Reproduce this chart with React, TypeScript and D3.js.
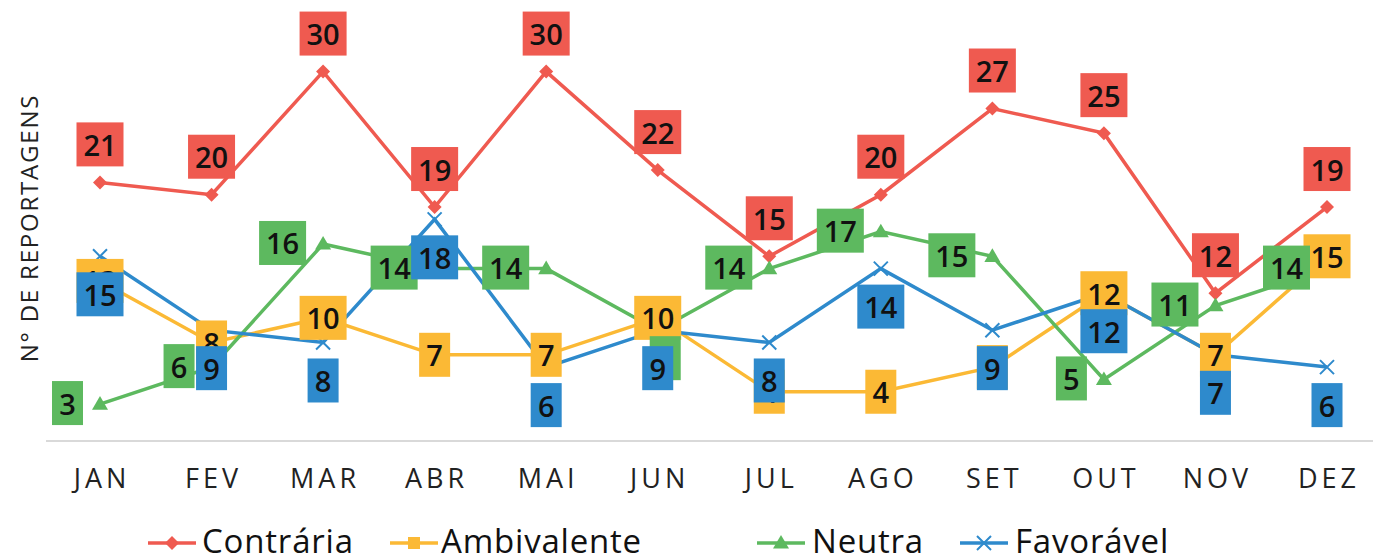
import React from "react";
import * as d3 from "d3";

const months = ["JAN", "FEV", "MAR", "ABR", "MAI", "JUN", "JUL", "AGO", "SET", "OUT", "NOV", "DEZ"];
const contraria = [21, 20, 30, 19, 30, 22, 15, 20, 27, 25, 12, 19];
const ambivalente = [13, 8, 10, 7, 7, 10, 4, 4, 6, 12, 7, 15];
const neutra = [3, 6, 16, 14, 14, 9, 14, 17, 15, 5, 11, 14];
const favoravel = [15, 9, 8, 18, 6, 9, 8, 14, 9, 12, 7, 6];
const seriesNames = ["Contrária", "Ambivalente", "Neutra", "Favorável"];
const yTitle = "N° DE REPORTAGENS";

const W = 1373;
const H = 560;
const FONT = "'Open Sans', 'Noto Sans', sans-serif";

type Pos = "above" | "center" | "left" | "below";

const series = [
  { name: seriesNames[0], values: contraria, color: "#EF5A50", marker: "diamond", pos: "above" as Pos },
  { name: seriesNames[1], values: ambivalente, color: "#FBB935", marker: "square", pos: "center" as Pos },
  { name: seriesNames[2], values: neutra, color: "#5DB95F", marker: "triangle", pos: "left" as Pos },
  { name: seriesNames[3], values: favoravel, color: "#2E8ACC", marker: "cross", pos: "below" as Pos },
];

// manual label nudges (series index, month index) -> [dx, dy] relative to default placement
const nudges: Record<string, [number, number]> = { "2-5": [40, 29] };

function Marker({ type, x, y, color }: { type: string; x: number; y: number; color: string }) {
  if (type === "diamond") {
    const s = 7;
    return <path d={`M${x},${y - s}L${x + s},${y}L${x},${y + s}L${x - s},${y}Z`} fill={color} />;
  }
  if (type === "square") {
    const s = 6;
    return <rect x={x - s} y={y - s} width={2 * s} height={2 * s} fill={color} />;
  }
  if (type === "triangle") {
    const s = 8;
    return <path d={`M${x},${y - s}L${x + s},${y + s * 0.7}L${x - s},${y + s * 0.7}Z`} fill={color} />;
  }
  const s = 7;
  return (
    <path
      d={`M${x - s},${y - s}L${x + s},${y + s}M${x + s},${y - s}L${x - s},${y + s}`}
      stroke={color}
      strokeWidth={2}
    />
  );
}

export default function App() {
  const x = d3.scalePoint<string>().domain(months).range([100, 1327]);
  const y = d3.scaleLinear().domain([0, 35]).range([441, 10]);
  const line = d3
    .line<number>()
    .x((_, i) => x(months[i]) as number)
    .y((d) => y(d));

  const labelFont = 29;
  const boxH = 44;
  const boxW = (s: string) => s.length * 16 + 15;

  const labels: React.ReactNode[] = [];
  series.forEach((s, si) => {
    s.values.forEach((v, i) => {
      const px = x(months[i]) as number;
      const py = y(v);
      const t = String(v);
      const w = boxW(t);
      let cx = px;
      let cy = py;
      if (s.pos === "above") cy = py - 38;
      else if (s.pos === "below") cy = py + 38;
      else if (s.pos === "left") {
        cx = px - 17 - w / 2;
        cy = py - 1;
      }
      const n = nudges[`${si}-${i}`];
      if (n) {
        cx += n[0];
        cy += n[1];
      }
      labels.push(
        <g key={`l-${si}-${i}`}>
          <rect x={cx - w / 2} y={cy - boxH / 2} width={w} height={boxH} fill={s.color} />
          <text
            x={cx}
            y={cy}
            textAnchor="middle"
            dominantBaseline="central"
            fontFamily={FONT}
            fontWeight={600}
            fontSize={labelFont}
            fill="#111"
          >
            {t}
          </text>
        </g>
      );
    });
  });

  const legendItems = [
    { x0: 148, tx: 202 },
    { x0: 390, tx: 441 },
    { x0: 757, tx: 812 },
    { x0: 960, tx: 1015 },
  ];
  const legendY = 543;

  return (
    <svg width={W} height={H} style={{ position: "absolute", left: 0, top: 0, background: "#fff" }}>
      <rect x={0} y={0} width={W} height={H} fill="#fff" />
      <line x1={46} x2={1373} y1={y(0)} y2={y(0)} stroke="#d9d9d9" strokeWidth={2} />
      {months.map((m) => (
        <text
          key={m}
          x={(x(m) as number) + 2}
          y={488}
          textAnchor="middle"
          fontFamily={FONT}
          fontSize={27}
          letterSpacing={4}
          fill="#222"
        >
          {m}
        </text>
      ))}
      <text
        transform={`translate(38,228) rotate(-90)`}
        textAnchor="middle"
        fontFamily={FONT}
        fontSize={24}
        letterSpacing={1.8}
        fill="#222"
      >
        {yTitle}
      </text>
      {series.map((s) => (
        <path key={`p-${s.name}`} d={line(s.values) || ""} fill="none" stroke={s.color} strokeWidth={3.5} />
      ))}
      {series.map((s) =>
        s.values.map((v, i) => (
          <Marker key={`m-${s.name}-${i}`} type={s.marker} x={x(months[i]) as number} y={y(v)} color={s.color} />
        ))
      )}
      {labels}
      {series.map((s, si) => {
        const it = legendItems[si];
        return (
          <g key={`lg-${s.name}`}>
            <line x1={it.x0} x2={it.x0 + 48} y1={legendY} y2={legendY} stroke={s.color} strokeWidth={3.5} />
            <Marker type={s.marker} x={it.x0 + 24} y={legendY} color={s.color} />
            <text x={it.tx} y={553} fontFamily={FONT} fontSize={33} letterSpacing={0.8} fill="#111">
              {s.name}
            </text>
          </g>
        );
      })}
    </svg>
  );
}
